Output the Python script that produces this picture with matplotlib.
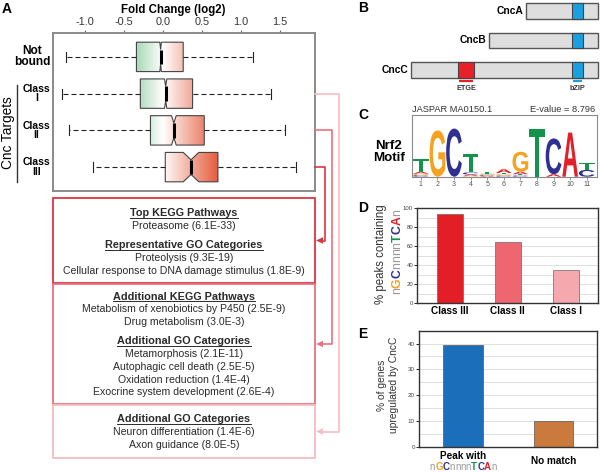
import numpy as np
import matplotlib
matplotlib.use('Agg')
import matplotlib.pyplot as plt
from matplotlib.patches import Rectangle, PathPatch, Polygon
from matplotlib.lines import Line2D
from matplotlib.textpath import TextPath
from matplotlib.font_manager import FontProperties
from matplotlib.colors import LinearSegmentedColormap, TwoSlopeNorm
import matplotlib.transforms as mtransforms

plt.rcParams['font.family'] = ['Liberation Sans', 'DejaVu Sans']
plt.rcParams['axes.unicode_minus'] = False

# ---------------- data ----------------
# Panel A: fold change box plots
groups_A = ['Not\nbound', 'Class\nI', 'Class\nII', 'Class\nIII']
whislo_A = [-1.24, -1.29, -1.20, -0.90]
q1_A = [-0.34, -0.29, -0.16, 0.03]
med_A = [-0.03, 0.035, 0.14, 0.36]
q3_A = [0.26, 0.38, 0.53, 0.705]
whishi_A = [1.16, 1.38, 1.57, 1.71]
notch_A = [0.01, 0.015, 0.03, 0.10]
xticks_A = [-1.0, -0.5, 0.0, 0.5, 1.0, 1.5]

# Panel A: enrichment boxes (text, is_header)
box1_lines = [('Top KEGG Pathways', True), ('Proteasome (6.1E-33)', False),
              ('Representative GO Categories', True), ('Proteolysis (9.3E-19)', False),
              ('Cellular response to DNA damage stimulus (1.8E-9)', False)]
box2_lines = [('Additional KEGG Pathways', True),
              ('Metabolism of xenobiotics by P450 (2.5E-9)', False),
              ('Drug metabolism (3.0E-3)', False),
              ('Additional GO Categories', True), ('Metamorphosis (2.1E-11)', False),
              ('Autophagic cell death (2.5E-5)', False), ('Oxidation reduction (1.4E-4)', False),
              ('Exocrine system development (2.6E-4)', False)]
box3_lines = [('Additional GO Categories', True), ('Neuron differentiation (1.4E-6)', False),
              ('Axon guidance (8.0E-5)', False)]

# Panel B: protein isoforms (residue-like units)
prot_names = ['CncA', 'CncB', 'CncC']
prot_start = [805, 546, 0]
prot_end = [1309, 1309, 1309]
bzip_range = (1125, 1202)
etge_range = (327, 443)

# Panel C: Nrf2 motif logo (bits)
logo_pos = list(range(1, 12))
logo_A = [0.06, 0.00, 0.00, 0.04, 0.03, 0.12, 0.08, 0.00, 0.08, 1.43, 0.00]
logo_C = [0.05, 0.00, 1.56, 0.07, 0.03, 0.04, 0.04, 0.00, 1.16, 0.00, 0.22]
logo_G = [0.05, 1.50, 0.00, 0.03, 0.04, 0.04, 0.65, 0.00, 0.00, 0.00, 0.00]
logo_T = [0.40, 0.00, 0.00, 0.60, 0.06, 0.04, 0.04, 1.55, 0.00, 0.00, 0.23]

# Panel D
cats_D = ['Class III', 'Class II', 'Class I']
vals_D = [94, 64, 35]
# Panel E
cats_E = ['Peak with', 'No match']
vals_E = [39.3, 9.9]

motif_str = 'nGCnnnnTCAn'

# ---------------- helpers ----------------
W, H = 600, 472
fig = plt.figure(figsize=(W / 100, H / 100), dpi=100)
R = fig.canvas.get_renderer()


def fx(x):
    return x / W


def fy(y):
    return 1 - y / H


def rect(l, t, r, b):
    return [l / W, 1 - b / H, (r - l) / W, (b - t) / H]


def fig_line(xs, ys, **kw):
    fig.add_artist(Line2D([fx(v) for v in xs], [fy(v) for v in ys],
                          transform=fig.transFigure, **kw))


base_col = {'A': '#e3202a', 'C': '#2e3192', 'G': '#f6a21e', 'T': '#13944a', 'n': '#9a9a9a'}


def text_w(s, size, weight):
    t = fig.text(0, 0, s, fontsize=size, weight=weight)
    w = t.get_window_extent(R).width
    t.remove()
    return w


def adv_width(ch, size, weight):
    return text_w('I' + ch + 'I', size, weight) - text_w('II', size, weight)


def motif_text(x, y, size, vertical=False):
    chars = list(motif_str)
    wts = ['normal' if c == 'n' else 'bold' for c in chars]
    ws = [adv_width(c, size, w) for c, w in zip(chars, wts)]
    cur = -sum(ws) / 2
    for c, w, wt in zip(chars, ws, wts):
        if vertical:
            fig.text(fx(x), fy(y - cur), c, color=base_col[c], fontsize=size, weight=wt,
                     rotation=90, rotation_mode='anchor', ha='left', va='baseline')
        else:
            fig.text(fx(x + cur), fy(y), c, color=base_col[c], fontsize=size, weight=wt,
                     ha='left', va='baseline')
        cur += w


# ---------------- Panel A ----------------
fig.text(fx(2), fy(9), 'A', fontsize=10, weight='bold', ha='left', va='center')
fig.text(fx(173), fy(10), 'Fold Change (log2)', fontsize=8.3, weight='bold', ha='center', va='center')

axA = fig.add_axes(rect(53, 33, 315, 191))
pos_A = [4, 3, 2, 1]
stats = [dict(med=med_A[i], q1=q1_A[i], q3=q3_A[i], whislo=whislo_A[i], whishi=whishi_A[i],
              cilo=med_A[i] - notch_A[i], cihi=med_A[i] + notch_A[i], fliers=[])
         for i in range(4)]
bp = axA.bxp(stats, positions=pos_A, widths=0.8, orientation='horizontal', patch_artist=True,
             shownotches=True, showfliers=False, capwidths=0.27,
             boxprops=dict(facecolor='none', edgecolor='#444444', linewidth=0.8),
             medianprops=dict(color='black', linewidth=2.2, solid_capstyle='butt'),
             whiskerprops=dict(color='#222222', linewidth=0.8, linestyle=(0, (4.5, 2.7))),
             capprops=dict(color='#222222', linewidth=0.8))
cmapA = LinearSegmentedColormap.from_list('fc', ['#98d1a8', '#ffffff', '#e4502f'])
normA = TwoSlopeNorm(vmin=-0.40, vcenter=0.0, vmax=0.76)
for i, box in enumerate(bp['boxes']):
    xs = np.linspace(q1_A[i], q3_A[i], 128)
    img = cmapA(normA(xs))[None, :, :]
    im = axA.imshow(img, extent=[q1_A[i], q3_A[i], pos_A[i] - 0.4, pos_A[i] + 0.4],
                    aspect='auto', interpolation='bilinear', zorder=1.9)
    im.set_clip_path(box)
    box.set_zorder(2)
for m in bp['medians']:
    m.set_zorder(2.2)
axA.set_xlim(-1.41, 1.95)
axA.set_ylim(0.35, 4.65)
axA.xaxis.tick_top()
axA.set_xticks(xticks_A)
axA.set_xticklabels([f'{v:.1f}' for v in xticks_A])
axA.tick_params(axis='x', length=2.5, width=0.8, colors='#666666', labelcolor='#333333',
                labelsize=7.8, pad=1.5)
axA.set_yticks([])
for s in axA.spines.values():
    s.set_color('#8a8a8a')
    s.set_linewidth(1.4)

trA = mtransforms.blended_transform_factory(axA.transAxes, axA.transData)
for i, (p, lab) in enumerate(zip(pos_A, groups_A)):
    if i == 0:
        axA.text(-0.08, p, lab, transform=trA, ha='center', va='center', weight='bold',
                 fontsize=8.6, linespacing=0.9)
    else:
        axA.text(-0.063, p, lab, transform=trA, ha='center', va='center', weight='bold',
                 fontsize=7.5, linespacing=0.95)
fig.text(fx(8), fy(133), 'Cnc Targets', rotation=90, fontsize=9.8, ha='center', va='center')
fig_line([17, 17], [85, 182], color='#333333', lw=1.0)

# enrichment boxes
box_edges = ['#e0343f', '#e8737f', '#f6bcc3']
box_tops = [198, 284, 405]
box_bots = [283, 404, 458]
first_y = [213, 296, 418.5]
for lines, t, b, ec, y0 in zip([box1_lines, box2_lines, box3_lines], box_tops, box_bots,
                               box_edges, first_y):
    fig.add_artist(Rectangle((fx(53), fy(b)), (315 - 53) / W, (b - t) / H,
                             transform=fig.transFigure, fill=False, ec=ec, lw=1.3))
    y = y0
    for k, (s, hdr) in enumerate(lines):
        if k > 0:
            y += 12.8 + (6.3 if hdr else 0)
        base = y + 3.5
        if hdr:
            tt = fig.text(fx(184), fy(base), s, ha='center', va='baseline', weight='bold',
                          fontsize=7.8, color='#2a2a2a')
            bb = tt.get_window_extent(R)
            fig.add_artist(Line2D([bb.x0 / W, bb.x1 / W], [fy(base + 1.7)] * 2,
                                  transform=fig.transFigure, color='#2a2a2a', lw=0.7))
        else:
            fig.text(fx(184), fy(base), s, ha='center', va='baseline', fontsize=7.6,
                     color='#2a2a2a')

# connectors (Class III -> box1, Class II -> box2, Class I -> box3)
conn_rows = [1, 2, 3]
conn_x = [325, 332, 339]
for p, xc, ec, t, b in zip(conn_rows, conn_x, box_edges, box_tops, box_bots):
    yrow = H - axA.transData.transform((0, p))[1]
    ytg = (t + b) / 2
    fig_line([315, xc, xc, 321], [yrow, yrow, ytg, ytg], color=ec, lw=1.2)
    fig.add_artist(Polygon([[fx(316), fy(ytg)], [fx(323), fy(ytg - 3.2)], [fx(323), fy(ytg + 3.2)]],
                           closed=True, transform=fig.transFigure, fc=ec, ec='none'))

# ---------------- Panel B ----------------
fig.text(fx(358), fy(8), 'B', fontsize=10, weight='bold', ha='left', va='center')
axB = fig.add_axes(rect(411, 0, 600, 95))
axB.axis('off')
axB.set_xlim(0, 1323)
axB.set_ylim(2.85, -0.373)
for i, (nm, st, en) in enumerate(zip(prot_names, prot_start, prot_end)):
    axB.add_patch(Rectangle((st, i - 0.27), en - st, 0.54, fc='#dedede', ec='#555555', lw=1.0,
                            clip_on=False))
    axB.add_patch(Rectangle((bzip_range[0], i - 0.27), bzip_range[1] - bzip_range[0], 0.54,
                            fc='#1a9fe0', ec='#444444', lw=0.8, clip_on=False))
    axB.text(st - 18, i, nm, ha='right', va='center', weight='bold', fontsize=7.4)
axB.add_patch(Rectangle((etge_range[0], 2 - 0.27), etge_range[1] - etge_range[0], 0.54,
                        fc='#e8202a', ec='#444444', lw=0.8))
axB.plot([etge_range[0] + 12, etge_range[1] - 12], [2.37, 2.37], color='#e8202a', lw=1.6,
         solid_capstyle='butt')
axB.plot([bzip_range[0] + 8, bzip_range[1] - 8], [2.37, 2.37], color='#1a9fe0', lw=1.6,
         solid_capstyle='butt')
axB.text(sum(etge_range) / 2, 2.64, 'ETGE', ha='center', va='center', weight='bold', fontsize=5.2,
         color='#333333')
axB.text(sum(bzip_range) / 2, 2.64, 'bZIP', ha='center', va='center', weight='bold', fontsize=5.2,
         color='#333333')

# ---------------- Panel C ----------------
fig.text(fx(358), fy(115), 'C', fontsize=10, weight='bold', ha='left', va='center')
fig.text(fx(412), fy(110), 'JASPAR MA0150.1', fontsize=6.7, color='#333333', ha='left', va='center')
fig.text(fx(595), fy(110), 'E-value = 8.796', fontsize=6.7, color='#333333', ha='right', va='center')
fig.text(fx(389), fy(152), 'Nrf2\nMotif', fontsize=9.6, weight='bold', ha='center', va='center',
         linespacing=1.1)
axC = fig.add_axes(rect(411.7, 115, 596.7, 176.7))
axC.set_xlim(0.45, 11.6)
axC.set_ylim(0, 2)
fpL = FontProperties(family='Liberation Sans', weight='bold')
letter_w = 0.95


def draw_letter(ax, ch, xc, y0, h, color):
    tp = TextPath((0, 0), ch, size=1, prop=fpL)
    bb = tp.get_extents()
    tr = (mtransforms.Affine2D().translate(-bb.x0, -bb.y0)
          .scale(letter_w / bb.width, h / bb.height).translate(xc - letter_w / 2, y0))
    ax.add_patch(PathPatch(tr.transform_path(tp), fc=color, ec='none'))


for j, p in enumerate(logo_pos):
    stack = sorted([('A', logo_A[j]), ('C', logo_C[j]), ('G', logo_G[j]), ('T', logo_T[j])],
                   key=lambda t: t[1])
    y0 = 0.0
    for ch, h in stack:
        if h <= 0:
            continue
        draw_letter(axC, ch, p, y0, h, base_col[ch])
        y0 += h
axC.set_xticks(logo_pos)
axC.set_xticklabels([str(p) for p in logo_pos])
axC.set_yticks([])
axC.tick_params(axis='x', length=2, width=0.6, colors='#888888', labelcolor='#555555',
                labelsize=5, pad=1)
for s in axC.spines.values():
    s.set_color('#8a8a8a')
    s.set_linewidth(0.8)

# ---------------- Panel D ----------------
fig.text(fx(358), fy(208), 'D', fontsize=10, weight='bold', ha='left', va='center')
axD = fig.add_axes(rect(417.3, 208.3, 597.7, 303.3))
xD = np.arange(len(cats_D))
axD.bar(xD, vals_D, width=0.45, color=['#e41e26', '#ee6670', '#f5a9af'], edgecolor='#666666',
        linewidth=0.5, zorder=2)
axD.set_xlim(-0.56, 2.55)
axD.set_ylim(0, 100)
axD.set_yticks(range(0, 101, 20))
axD.set_yticks(range(10, 100, 10), minor=True)
axD.grid(axis='y', which='both', color='#d9d9d9', lw=0.6)
axD.set_axisbelow(True)
axD.set_xticks(xD)
axD.set_xticklabels(cats_D, weight='bold', fontsize=7.2)
axD.tick_params(axis='x', length=0, pad=2)
axD.tick_params(axis='y', which='major', length=2, width=0.6, labelsize=4.3, labelcolor='#444444',
                pad=1)
axD.tick_params(axis='y', which='minor', length=0)
for s in axD.spines.values():
    s.set_color('#333333')
    s.set_linewidth(1.0)
fig.text(fx(384), fy(254), '% peaks containing', rotation=90, rotation_mode='anchor',
         ha='center', va='baseline', fontsize=8.3, color='#333333')
motif_text(400.5, 252, 8.8, vertical=True)

# ---------------- Panel E ----------------
fig.text(fx(358), fy(334), 'E', fontsize=10, weight='bold', ha='left', va='center')
axE = fig.add_axes(rect(419, 330.7, 596.7, 446.7))
xE = np.arange(len(cats_E))
axE.bar(xE, vals_E, width=0.44, color=['#1b6fba', '#c97a3c'], edgecolor='#555555',
        linewidth=0.5, zorder=2)
axE.set_xlim(-0.49, 1.48)
axE.set_ylim(0, 45)
axE.set_yticks(range(0, 41, 10))
axE.set_yticks(range(5, 46, 5), minor=True)
axE.grid(axis='y', which='both', color='#d9d9d9', lw=0.6)
axE.set_axisbelow(True)
axE.set_xticks([])
axE.tick_params(axis='y', which='major', length=2, width=0.6, labelsize=4.5,
                labelcolor='#444444', pad=1)
axE.tick_params(axis='y', which='minor', length=0)
for s in axE.spines.values():
    s.set_color('#333333')
    s.set_linewidth(1.0)
fig.text(fx(388), fy(385), '% of genes\nupregulated by CncC', rotation=90, ha='center',
         va='center', fontsize=7.4, linespacing=1.2, color='#333333')
xpix = [axE.transData.transform((i, 0))[0] for i in xE]
fig.text(fx(xpix[0]), fy(459), cats_E[0], ha='center', va='baseline', weight='bold', fontsize=7.2)
motif_text(xpix[0], 469.5, 7.0, vertical=False)
fig.text(fx(xpix[1]), fy(464), cats_E[1], ha='center', va='baseline', weight='bold', fontsize=7.2)

fig.savefig('out.png', dpi=100)
